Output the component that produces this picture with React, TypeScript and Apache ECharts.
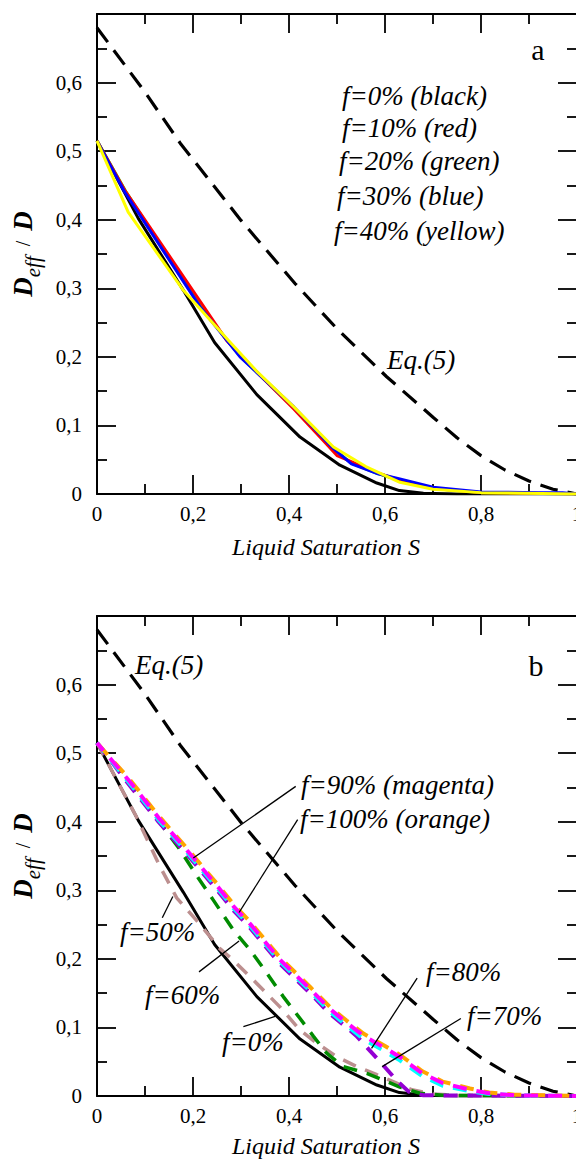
import React, { useEffect, useRef } from 'react';
import * as echarts from 'echarts';

const FONT = 'Liberation Serif';

// ---------- Panel a data ----------
const sEq = [0, 0.1, 0.175, 0.3, 0.4125, 0.5, 0.6035, 0.7, 0.75, 0.8, 0.85, 0.9, 0.95, 1];
const vEq = [0.68, 0.586, 0.51, 0.399, 0.307, 0.241, 0.171, 0.112, 0.082, 0.056, 0.035, 0.019, 0.007, 0];

const sF0 = [0, 0.086, 0.18, 0.245, 0.333, 0.423, 0.506, 0.583, 0.63, 0.68, 0.75, 1];
const vF0 = [0.515, 0.402, 0.297, 0.221, 0.145, 0.083, 0.042, 0.016, 0.005, 0.001, 0, 0];

const sF10 = [0, 0.058, 0.27, 0.334, 0.41, 0.478, 0.5, 0.52, 0.583, 0.631, 0.7, 0.8, 0.9, 1];
const vF10 = [0.515, 0.443, 0.224, 0.177, 0.124, 0.073, 0.056, 0.05, 0.031, 0.02, 0.008, 0.002, 0.001, 0];

const sF20 = [0, 0.06, 0.215, 0.298, 0.41, 0.49, 0.53, 0.583, 0.631, 0.7, 0.8, 1];
const vF20 = [0.515, 0.441, 0.274, 0.201, 0.126, 0.067, 0.045, 0.03, 0.02, 0.008, 0.002, 0];

const sF30 = [0, 0.058, 0.215, 0.298, 0.41, 0.49, 0.53, 0.583, 0.631, 0.7, 0.8, 0.92, 0.97, 1];
const vF30 = [0.515, 0.44, 0.2726, 0.2, 0.127, 0.068, 0.044, 0.03, 0.022, 0.01, 0.003, 0.002, 0.002, 0];

const sF40 = [0, 0.065, 0.18, 0.274, 0.334, 0.41, 0.4925, 0.56, 0.631, 0.7, 0.8, 1];
const vF40 = [0.515, 0.411, 0.297, 0.224, 0.178, 0.127, 0.0685, 0.04, 0.017, 0.007, 0.002, 0];

// ---------- Panel b data ----------
const sF50 = [0, 0.08, 0.131, 0.166, 0.215, 0.256, 0.284, 0.326, 0.381, 0.423, 0.458, 0.5, 0.541, 0.583, 0.617, 0.656, 0.7, 0.75, 1];
const vF50 = [0.515, 0.41, 0.335, 0.289, 0.25, 0.215, 0.198, 0.169, 0.13, 0.096, 0.077, 0.057, 0.043, 0.031, 0.021, 0.009, 0.003, 0.001, 0];

const sF60 = [0, 0.05, 0.1, 0.17, 0.211, 0.242, 0.284, 0.319, 0.354, 0.388, 0.423, 0.451, 0.479, 0.513, 0.562, 0.597, 0.631, 0.673, 0.72, 1];
const vF60 = [0.515, 0.472, 0.428, 0.362, 0.318, 0.286, 0.242, 0.213, 0.179, 0.145, 0.113, 0.087, 0.062, 0.043, 0.033, 0.023, 0.013, 0.004, 0.001, 0];

const sCl = [0, 0.069, 0.128, 0.194, 0.253, 0.284, 0.319, 0.381, 0.444, 0.485, 0.52, 0.555, 0.6, 0.631, 0.678, 0.72, 0.777, 0.817, 0.87, 1];
const vF100 = [0.515, 0.461, 0.409, 0.356, 0.307, 0.28, 0.254, 0.202, 0.159, 0.13, 0.11, 0.091, 0.073, 0.06, 0.036, 0.021, 0.011, 0.005, 0.002, 0];
const vF90 = [0.515, 0.458, 0.406, 0.353, 0.304, 0.277, 0.251, 0.199, 0.156, 0.127, 0.107, 0.088, 0.07, 0.057, 0.033, 0.019, 0.009, 0.004, 0.001, 0];
const vF80 = [0.515, 0.455, 0.403, 0.35, 0.301, 0.274, 0.248, 0.196, 0.153, 0.123, 0.103, 0.083, 0.065, 0.052, 0.029, 0.015, 0.007, 0.003, 0.001, 0];

const sF70 = [0, 0.069, 0.128, 0.194, 0.253, 0.284, 0.319, 0.381, 0.444, 0.485, 0.52, 0.54, 0.6, 0.625, 0.65, 0.68, 1];
const vF70 = [0.515, 0.452, 0.4, 0.347, 0.298, 0.271, 0.245, 0.193, 0.15, 0.12, 0.1, 0.088, 0.042, 0.022, 0.006, 0.001, 0];

// annotation pointer segments (data coordinates of panel b)
const ptr90 = [[0.414, 0.4515], [0.2006, 0.347]];
const ptr100 = [[0.418, 0.403], [0.296, 0.2676]];
const ptr50 = [[0.158, 0.291], [0.136, 0.26]];
const ptr60 = [[0.2125, 0.181], [0.296, 0.226]];
const ptr0 = [[0.305, 0.101], [0.371, 0.116]];
const ptr80 = [[0.667, 0.172], [0.572, 0.0696]];
const ptr70 = [[0.758, 0.113], [0.594, 0.0428]];

const legendA = ['f=0% (black)', 'f=10% (red)', 'f=20% (green)', 'f=30% (blue)', 'f=40% (yellow)'];

const pairs = (s: number[], v: number[]) => s.map((x, i) => [x, v[i]]);

const xFmt = (v: number) => (v === 0 ? '0' : Math.abs(v - 1) < 1e-9 ? '1' : v.toFixed(1).replace('.', ','));
const yFmt = (v: number) => (v === 0 ? '0' : v > 0.65 ? '' : v.toFixed(1).replace('.', ','));

const tickStyle = { color: '#000', width: 1.8 };

function xAxis(gridIndex: number, position: string, labels: boolean) {
  return {
    type: 'value', gridIndex, position, min: 0, max: 1, interval: 0.2,
    axisLine: { show: true, onZero: false, lineStyle: { color: '#000', width: 2 } },
    axisTick: { show: true, inside: true, length: 19, lineStyle: tickStyle },
    minorTick: { show: true, splitNumber: 2, length: 10, lineStyle: tickStyle },
    axisLabel: { show: labels, margin: 9, fontFamily: FONT, fontSize: 21, color: '#000', formatter: xFmt, hideOverlap: false },
    splitLine: { show: false }, minorSplitLine: { show: false },
  };
}

function yAxis(gridIndex: number, position: string, labels: boolean) {
  const ax: any = {
    type: 'value', gridIndex, position, min: 0, max: 0.7, interval: 0.1,
    axisLine: { show: true, onZero: false, lineStyle: { color: '#000', width: 2 } },
    axisTick: { show: true, inside: true, length: 19, lineStyle: tickStyle },
    minorTick: { show: true, splitNumber: 2, length: 10, lineStyle: tickStyle },
    axisLabel: { show: labels, margin: 15, fontFamily: FONT, fontSize: 21, color: '#000', formatter: yFmt },
    splitLine: { show: false }, minorSplitLine: { show: false },
  };
  if (labels) {
    ax.name = '{D|D}{sub|eff}{sl|  /  }{D|D}';
    ax.nameLocation = 'middle';
    ax.nameRotate = 90;
    ax.nameGap = 54;
    ax.nameTextStyle = {
      rich: {
        D: { fontFamily: FONT, fontSize: 27, fontWeight: 'bold', fontStyle: 'italic', color: '#000', lineHeight: 40, verticalAlign: 'middle' },
        sub: { fontFamily: FONT, fontSize: 21, fontStyle: 'italic', color: '#000', lineHeight: 20, verticalAlign: 'bottom' },
        sl: { fontFamily: FONT, fontSize: 20, color: '#000', lineHeight: 40, verticalAlign: 'middle' },
      },
    };
  }
  return ax;
}

function line(xi: number, data: number[][], color: string, width: number, type: any = 'solid', dashOffset = 0) {
  return {
    type: 'line', xAxisIndex: xi, yAxisIndex: xi, data, symbol: 'none', silent: true,
    lineStyle: { color, width, type, dashOffset, cap: 'butt' },
    z: 2,
  };
}

function txt(x: number, y: number, text: string, size: number, style = 'italic', align = 'left') {
  return {
    type: 'text', x, y, silent: true,
    style: { text, fill: '#000', fontFamily: FONT, fontSize: size, fontStyle: style, align, verticalAlign: 'middle' },
  };
}

export default function App() {
  const ref = useRef<HTMLDivElement>(null);
  useEffect(() => {
    const chart = echarts.init(ref.current!, null, { renderer: 'svg' });
    const eqDash = [18, 10];
    const cDash = [14, 10];
    const option: any = {
      animation: false,
      backgroundColor: '#fff',
      textStyle: { fontFamily: FONT },
      grid: [
        { left: 97, top: 14, width: 480, height: 480, outerBoundsMode: 'none', containLabel: false },
        { left: 97, top: 616, width: 480, height: 480, outerBoundsMode: 'none', containLabel: false },
      ],
      xAxis: [xAxis(0, 'bottom', true), xAxis(0, 'top', false), xAxis(1, 'bottom', true), xAxis(1, 'top', false)],
      yAxis: [yAxis(0, 'left', true), yAxis(0, 'right', false), yAxis(1, 'left', true), yAxis(1, 'right', false)],
      series: [
        // panel a
        line(0, pairs(sEq, vEq), '#000', 3.2, eqDash),
        line(0, pairs(sF0, vF0), '#000', 3),
        line(0, pairs(sF20, vF20), '#00ff00', 3),
        line(0, pairs(sF10, vF10), '#ff0000', 3),
        line(0, pairs(sF30, vF30), '#0000ff', 3),
        line(0, pairs(sF40, vF40), '#ffff00', 3),
        // panel b
        line(2, pairs(sEq, vEq), '#000', 3.2, eqDash),
        line(2, pairs(sF0, vF0), '#000', 3),
        line(2, pairs(sF50, vF50), '#bc8f8f', 3.5, cDash),
        line(2, pairs(sF60, vF60), '#008b00', 3.5, cDash),
        line(2, pairs(sF70, vF70), '#9400d3', 4, cDash, 0),
        line(2, pairs(sCl, vF80), '#00ffff', 4, cDash, 2),
        line(2, pairs(sCl, vF100), '#ffa500', 4, cDash, -2),
        line(2, pairs(sCl, vF90), '#ff00ff', 4, cDash, 4),
        line(2, ptr90, '#000', 1.3),
        line(2, ptr100, '#000', 1.3),
        line(2, ptr50, '#000', 1.3),
        line(2, ptr60, '#000', 1.3),
        line(2, ptr0, '#000', 1.3),
        line(2, ptr80, '#000', 1.3),
        line(2, ptr70, '#000', 1.3),
      ],
      graphic: [
        txt(538, 49, 'a', 30, 'normal', 'center'),
        txt(342, 96, legendA[0], 27),
        txt(342, 128, legendA[1], 27),
        txt(339, 161, legendA[2], 27),
        txt(337, 196, legendA[3], 27),
        txt(334, 231, legendA[4], 27),
        txt(387, 360, 'Eq.(5)', 27),
        txt(326, 547, 'Liquid Saturation S', 24, 'italic', 'center'),
        txt(536, 665, 'b', 30, 'normal', 'center'),
        txt(135, 665, 'Eq.(5)', 27),
        txt(301, 785, 'f=90% (magenta)', 27),
        txt(300, 819, 'f=100% (orange)', 27),
        txt(120, 932, 'f=50%', 27),
        txt(145, 995, 'f=60%', 27),
        txt(222, 1042, 'f=0%', 27),
        txt(426, 972, 'f=80%', 27),
        txt(467, 1016, 'f=70%', 27),
        txt(326, 1146, 'Liquid Saturation S', 24, 'italic', 'center'),
      ],
    };
    chart.setOption(option);
    return () => chart.dispose();
  }, []);
  return (
    <div
      ref={ref}
      style={{ position: 'absolute', left: 0, top: 0, width: 576, height: 1159, background: '#fff' }}
    />
  );
}
